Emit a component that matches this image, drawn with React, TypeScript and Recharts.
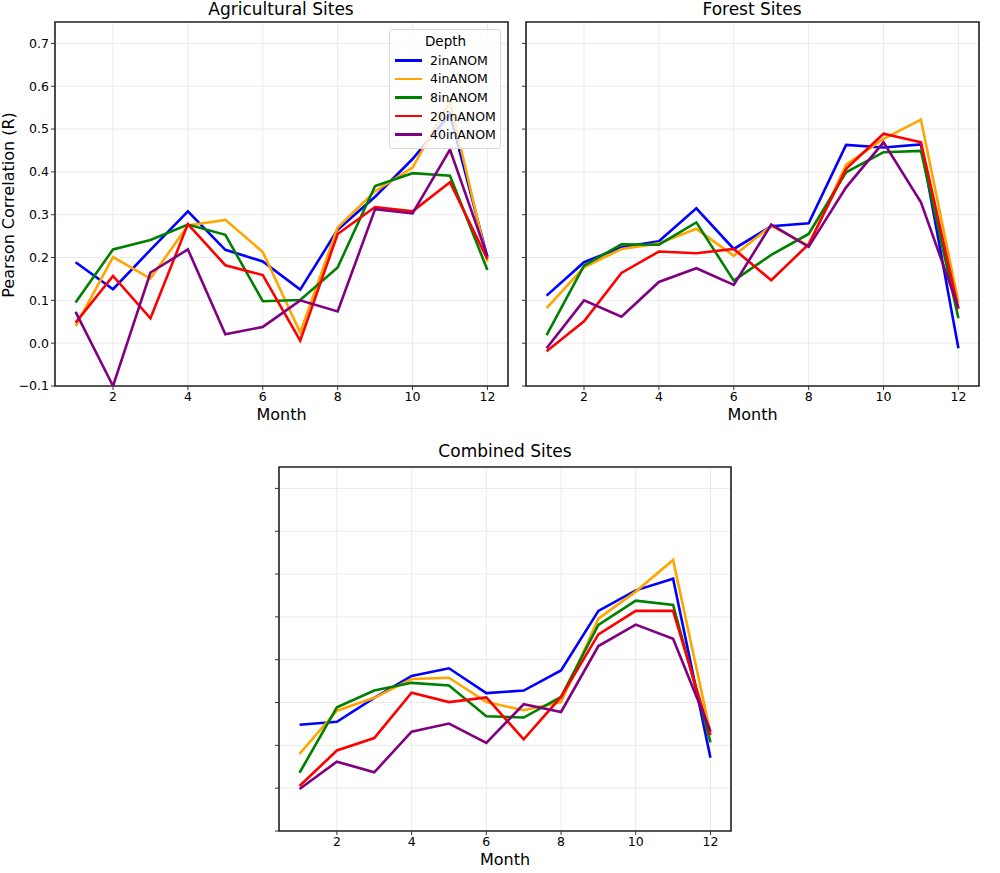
import React from 'react';
import {
  LineChart,
  Line,
  XAxis,
  YAxis,
  CartesianGrid,
  ReferenceArea,
  Legend,
} from 'recharts';

const months = [1, 2, 3, 4, 5, 6, 7, 8, 9, 10, 11, 12];
const depths = ['2inANOM', '4inANOM', '8inANOM', '20inANOM', '40inANOM'];
const depthColors = ['#0000ff', '#ffa500', '#008000', '#ff0000', '#800080'];
const xTicks = [2, 4, 6, 8, 10, 12];
const yTicks = [-0.1, 0, 0.1, 0.2, 0.3, 0.4, 0.5, 0.6, 0.7];

// Agricultural sites, one array per depth
const agri2 = [0.189, 0.126, 0.218, 0.308, 0.218, 0.191, 0.125, 0.265, 0.342, 0.43, 0.535, 0.2];
const agri4 = [0.04, 0.201, 0.151, 0.275, 0.288, 0.213, 0.025, 0.27, 0.355, 0.41, 0.565, 0.19];
const agri8 = [0.095, 0.219, 0.241, 0.277, 0.253, 0.098, 0.101, 0.177, 0.367, 0.397, 0.391, 0.171];
const agri20 = [0.048, 0.157, 0.058, 0.278, 0.182, 0.159, 0.006, 0.255, 0.318, 0.308, 0.376, 0.196];
const agri40 = [0.073, -0.1, 0.165, 0.219, 0.021, 0.038, 0.1, 0.074, 0.313, 0.303, 0.452, 0.203];

// Forest sites
const forest2 = [0.111, 0.189, 0.224, 0.238, 0.315, 0.22, 0.273, 0.28, 0.463, 0.457, 0.464, -0.012];
const forest4 = [0.082, 0.177, 0.22, 0.233, 0.267, 0.204, 0.274, 0.228, 0.417, 0.477, 0.522, 0.095];
const forest8 = [0.019, 0.181, 0.231, 0.23, 0.282, 0.146, 0.206, 0.255, 0.399, 0.446, 0.449, 0.058];
const forest20 = [-0.019, 0.051, 0.164, 0.214, 0.21, 0.22, 0.147, 0.231, 0.407, 0.489, 0.469, 0.08];
const forest40 = [-0.012, 0.1, 0.062, 0.143, 0.175, 0.136, 0.277, 0.225, 0.364, 0.469, 0.329, 0.083];

// Combined sites
const comb2 = [0.148, 0.155, 0.211, 0.262, 0.28, 0.222, 0.228, 0.275, 0.414, 0.462, 0.489, 0.071];
const comb4 = [0.08, 0.181, 0.211, 0.255, 0.258, 0.201, 0.182, 0.201, 0.396, 0.459, 0.533, 0.129];
const comb8 = [0.036, 0.189, 0.228, 0.246, 0.24, 0.168, 0.165, 0.213, 0.381, 0.438, 0.428, 0.107];
const comb20 = [0.005, 0.088, 0.117, 0.223, 0.201, 0.212, 0.114, 0.213, 0.359, 0.414, 0.414, 0.124];
const comb40 = [-0.002, 0.062, 0.037, 0.132, 0.151, 0.106, 0.196, 0.178, 0.332, 0.382, 0.349, 0.133];

const buildRows = (series: number[][]) =>
  months.map((m, i) => {
    const row: Record<string, number> = { month: m };
    depths.forEach((d, k) => {
      row[d] = series[k][i];
    });
    return row;
  });

const agriData = buildRows([agri2, agri4, agri8, agri20, agri40]);
const forestData = buildRows([forest2, forest4, forest8, forest20, forest40]);
const combData = buildRows([comb2, comb4, comb8, comb20, comb40]);

const FONT = '"DejaVu Sans", sans-serif';
const X_DOMAIN: [number, number] = [0.45, 12.55];
const Y_DOMAIN: [number, number] = [-0.1, 0.75];

function DepthLegend() {
  return (
    <div
      style={{
        background: 'rgba(255,255,255,0.8)',
        border: '1px solid #d8d8d8',
        borderRadius: 3,
        padding: '3px 4px 4px 5px',
        fontFamily: FONT,
        fontSize: 12.5,
        color: '#000',
        boxSizing: 'border-box',
        width: 112,
      }}
    >
      <div style={{ textAlign: 'center', fontSize: 13.5, lineHeight: '17px', marginBottom: 1 }}>Depth</div>
      {depths.map((d, i) => (
        <div key={d} style={{ display: 'flex', alignItems: 'center', height: 18.6, whiteSpace: 'nowrap' }}>
          <span
            style={{
              display: 'inline-block',
              width: 27,
              height: 2.5,
              background: depthColors[i],
              marginRight: 8,
            }}
          />
          <span>{d}</span>
        </div>
      ))}
    </div>
  );
}

type PanelProps = {
  data: Record<string, number>[];
  width: number;
  height: number;
  margin: { top: number; right: number; left: number; bottom: number };
  yWidth: number;
  xHeight: number;
  showYLabels: boolean;
  labelOffset: number;
  legend?: boolean;
};

function Panel({ data, width, height, margin, yWidth, xHeight, showYLabels, labelOffset, legend }: PanelProps) {
  return (
    <LineChart width={width} height={height} data={data} margin={margin}>
      <CartesianGrid stroke="#ebebeb" strokeWidth={1} />
      <XAxis
        dataKey="month"
        type="number"
        domain={X_DOMAIN}
        ticks={xTicks}
        height={xHeight}
        axisLine={false}
        tickLine={{ stroke: '#333' }}
        tickSize={4}
        tick={{ fill: '#000', fontSize: 12.5, fontFamily: FONT }}
        label={{
          value: 'Month',
          position: 'insideBottom',
          offset: labelOffset,
          style: { fill: '#000', fontSize: 16, fontFamily: FONT },
        }}
      />
      <YAxis
        type="number"
        domain={Y_DOMAIN}
        ticks={yTicks}
        width={yWidth}
        axisLine={false}
        tickLine={{ stroke: '#333' }}
        tickSize={4}
        tickFormatter={(v: number) => (showYLabels ? (v < 0 ? '\u2212' + Math.abs(v).toFixed(1) : v.toFixed(1)) : '')}
        tick={{ fill: '#000', fontSize: 12.5, fontFamily: FONT }}
        allowDataOverflow
      />
      {depths.map((d, i) => (
        <Line
          key={d}
          type="linear"
          dataKey={d}
          stroke={depthColors[i]}
          strokeWidth={2.6}
          dot={false}
          activeDot={false}
          isAnimationActive={false}
        />
      ))}
      <ReferenceArea
        x1={X_DOMAIN[0]}
        x2={X_DOMAIN[1]}
        y1={Y_DOMAIN[0]}
        y2={Y_DOMAIN[1]}
        fill="none"
        stroke="#222"
        strokeWidth={1.6}
        ifOverflow="visible"
      />
      {legend && (
        <Legend
          layout="horizontal"
          align="center"
          verticalAlign="middle"
          wrapperStyle={{ top: 29, left: 389, right: 'auto', bottom: 'auto', width: 112 }}
          content={() => <DepthLegend />}
        />
      )}
    </LineChart>
  );
}

const titleStyle: React.CSSProperties = {
  position: 'absolute',
  fontFamily: FONT,
  fontSize: 17,
  lineHeight: '18px',
  color: '#000',
  textAlign: 'center',
  whiteSpace: 'nowrap',
};

export default function App() {
  return (
    <div style={{ position: 'absolute', left: 0, top: 0, width: 1000, height: 873, background: '#fff', overflow: 'hidden' }}>
      <div style={{ position: 'absolute', left: 0, top: 0 }}>
        <Panel
          data={agriData}
          width={520}
          height={425}
          margin={{ top: 22, right: 12, left: 0, bottom: 0 }}
          yWidth={55}
          xHeight={39}
          showYLabels
          labelOffset={5}
          legend
        />
      </div>
      <div style={{ position: 'absolute', left: 510, top: 0 }}>
        <Panel
          data={forestData}
          width={490}
          height={425}
          margin={{ top: 22, right: 21, left: 0, bottom: 0 }}
          yWidth={16}
          xHeight={39}
          showYLabels={false}
          labelOffset={5}
        />
      </div>
      <div style={{ position: 'absolute', left: 250, top: 440 }}>
        <Panel
          data={combData}
          width={500}
          height={433}
          margin={{ top: 27, right: 19, left: 0, bottom: 0 }}
          yWidth={29}
          xHeight={42}
          showYLabels={false}
          labelOffset={8}
        />
      </div>
      <div style={{ ...titleStyle, left: 181, width: 200, top: 0 }}>Agricultural Sites</div>
      <div style={{ ...titleStyle, left: 652, width: 200, top: 0 }}>Forest Sites</div>
      <div style={{ ...titleStyle, left: 405, width: 200, top: 442 }}>Combined Sites</div>
      <div
        style={{
          position: 'absolute',
          left: 9,
          top: 205,
          transform: 'translate(-50%, -50%) rotate(-90deg)',
          fontFamily: FONT,
          fontSize: 16,
          lineHeight: '18px',
          whiteSpace: 'nowrap',
          color: '#000',
        }}
      >
        Pearson Correlation (R)
      </div>
    </div>
  );
}
